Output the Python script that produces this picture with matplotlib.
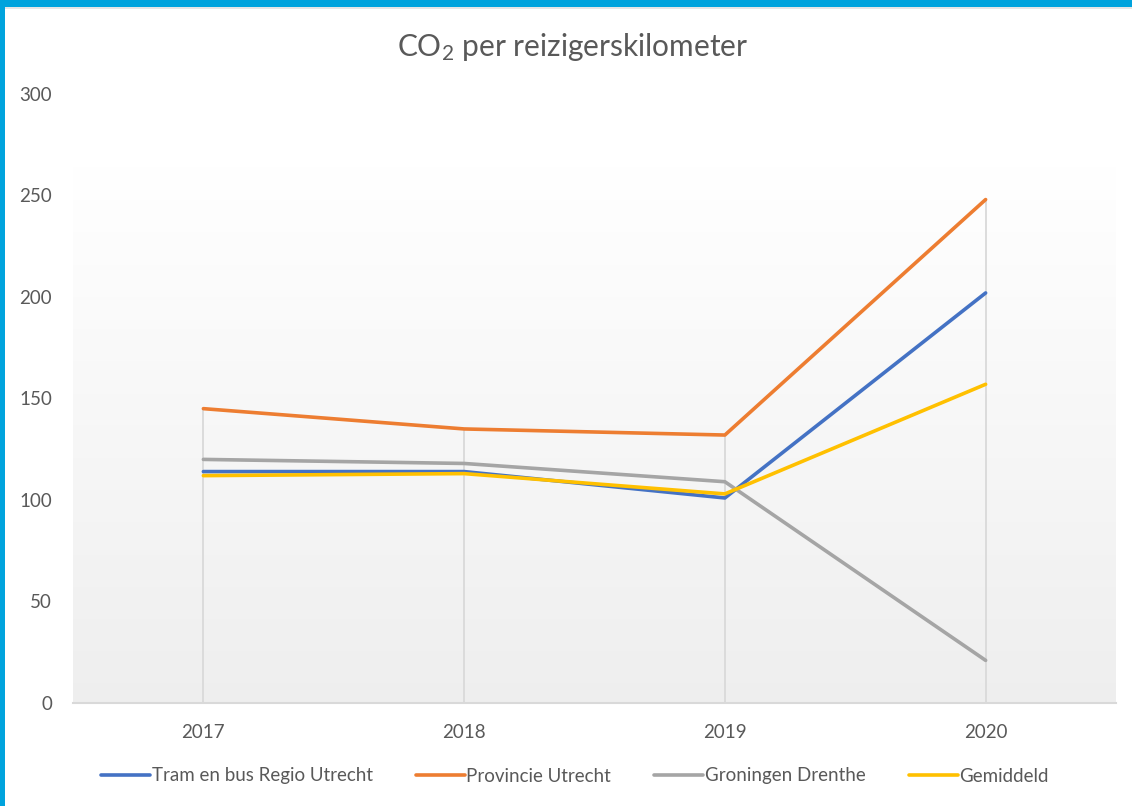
import numpy as np
import matplotlib
matplotlib.use('Agg')
import matplotlib.pyplot as plt
from matplotlib.patches import Rectangle

# Data
years = ["2017", "2018", "2019", "2020"]
tram_bus_utrecht = [114, 114, 101, 202]
provincie_utrecht = [145, 135, 132, 248]
groningen_drenthe = [120, 118, 109, 21]
gemiddeld = [112, 113, 103, 157]

series_names = ["Tram en bus Regio Utrecht", "Provincie Utrecht",
                "Groningen Drenthe", "Gemiddeld"]
series_colors = ["#4472C4", "#ED7D31", "#A5A5A5", "#FFC000"]

plt.rcParams['font.family'] = ['Lato', 'DejaVu Sans']
plt.rcParams['mathtext.fontset'] = 'custom'
plt.rcParams['mathtext.rm'] = 'Lato'
plt.rcParams['mathtext.it'] = 'Lato'

text_col = '#595959'

fig = plt.figure(figsize=(11.32, 8.06), dpi=100)
ax = fig.add_axes([73 / 1132, 1 - 703 / 806, (1116 - 73) / 1132, (703 - 94) / 806])

x = np.arange(len(years))
ax.set_xlim(-0.5, len(years) - 0.5)

# gradient background of plot area (white on top -> light gray at bottom)
grad = np.linspace(0, 1, 256).reshape(-1, 1)
shade = np.clip((grad - 0.12) / 0.88, 0, 1)
img = 1 - 0.065 * shade
ax.imshow(np.dstack([img, img, img]), extent=(-0.5, len(years) - 0.5, 0, 300),
          aspect='auto', origin='upper', zorder=0)
ax.set_ylim(0, 300)

all_series = [tram_bus_utrecht, provincie_utrecht, groningen_drenthe, gemiddeld]

# drop lines from highest point down to axis
tops = np.max(np.array(all_series), axis=0)
ax.vlines(x, 0, tops, color='#d9d9d9', linewidth=1.3, zorder=1)

for vals, name, col in zip(all_series, series_names, series_colors):
    ax.plot(x, vals, color=col, linewidth=2.6, label=name, zorder=3,
            solid_capstyle='round', solid_joinstyle='round')

for s in ['top', 'right', 'left']:
    ax.spines[s].set_visible(False)
ax.spines['bottom'].set_color('#d9d9d9')
ax.spines['bottom'].set_linewidth(1.5)

ax.set_xticks(x)
ax.set_xticklabels(years)
ax.set_yticks(range(0, 301, 50))
ax.tick_params(axis='both', length=0, labelsize=13.5, labelcolor=text_col)
ax.tick_params(axis='y', pad=15)
ax.tick_params(axis='x', pad=15)

fig.text(0.506, 1 - 47 / 806, 'CO$_2$ per reizigerskilometer', ha='center', va='center',
         fontsize=21.5, color=text_col)

leg = fig.legend(loc='center', bbox_to_anchor=(0.508, 1 - 776 / 806), ncol=4,
                 frameon=False, fontsize=13.5, handlelength=2.6, handletextpad=0.1,
                 columnspacing=2.3)
for t in leg.get_texts():
    t.set_color(text_col)

# frame border (blue on top and left)
fig.patches.append(Rectangle((0, 1 - 7 / 806), 1, 7 / 806, transform=fig.transFigure,
                             facecolor='#00A3DD', edgecolor='none', zorder=10))
fig.patches.append(Rectangle((0, 0), 5 / 1132, 1, transform=fig.transFigure,
                             facecolor='#00A3DD', edgecolor='none', zorder=10))
fig.patches.append(Rectangle((5 / 1132, 1 - 9 / 806), 1, 2 / 806, transform=fig.transFigure,
                             facecolor='#e6e6e6', edgecolor='none', zorder=9))

fig.savefig('out.png', dpi=100)
